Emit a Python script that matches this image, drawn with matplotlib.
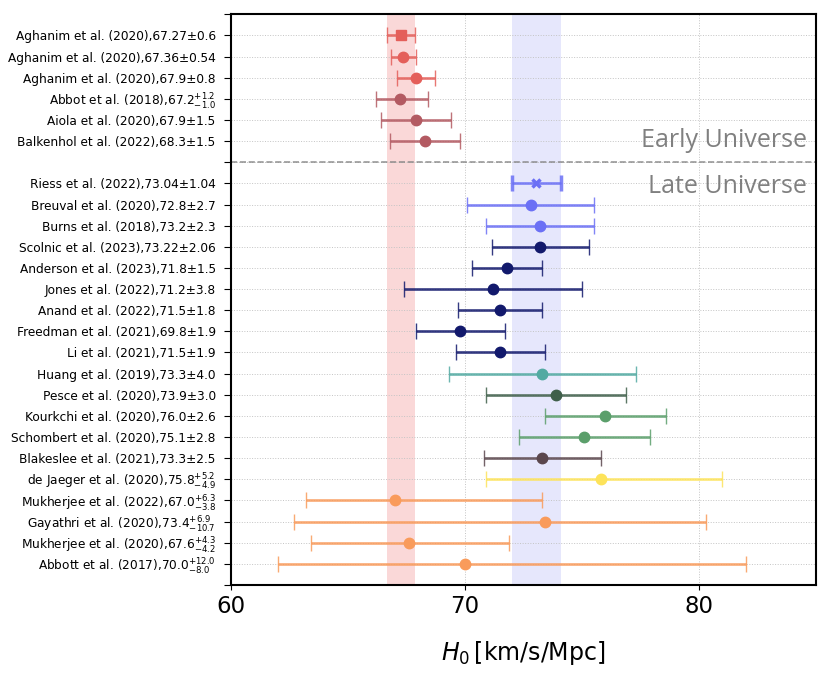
import numpy as np
import matplotlib
matplotlib.use('Agg')
import matplotlib.pyplot as plt
from matplotlib.colors import to_rgba

# measurements, listed top to bottom
labels = [
    "Aghanim et al. (2020),67.27±0.6",
    "Aghanim et al. (2020),67.36±0.54",
    "Aghanim et al. (2020),67.9±0.8",
    r"Abbot et al. (2018),67.2$^{+1.2}_{-1.0}$",
    "Aiola et al. (2020),67.9±1.5",
    "Balkenhol et al. (2022),68.3±1.5",
    "Riess et al. (2022),73.04±1.04",
    "Breuval et al. (2020),72.8±2.7",
    "Burns et al. (2018),73.2±2.3",
    "Scolnic et al. (2023),73.22±2.06",
    "Anderson et al. (2023),71.8±1.5",
    "Jones et al. (2022),71.2±3.8",
    "Anand et al. (2022),71.5±1.8",
    "Freedman et al. (2021),69.8±1.9",
    "Li et al. (2021),71.5±1.9",
    "Huang et al. (2019),73.3±4.0",
    "Pesce et al. (2020),73.9±3.0",
    "Kourkchi et al. (2020),76.0±2.6",
    "Schombert et al. (2020),75.1±2.8",
    "Blakeslee et al. (2021),73.3±2.5",
    r"de Jaeger et al. (2020),75.8$^{+5.2}_{-4.9}$",
    r"Mukherjee et al. (2022),67.0$^{+6.3}_{-3.8}$",
    r"Gayathri et al. (2020),73.4$^{+6.9}_{-10.7}$",
    r"Mukherjee et al. (2020),67.6$^{+4.3}_{-4.2}$",
    r"Abbott et al. (2017),70.0$^{+12.0}_{-8.0}$",
]
h0 = [67.27, 67.36, 67.9, 67.2, 67.9, 68.3,
      73.04, 72.8, 73.2, 73.22, 71.8, 71.2, 71.5, 69.8, 71.5,
      73.3, 73.9, 76.0, 75.1, 73.3, 75.8, 67.0, 73.4, 67.6, 70.0]
err_lo = [0.6, 0.54, 0.8, 1.0, 1.5, 1.5,
          1.04, 2.7, 2.3, 2.06, 1.5, 3.8, 1.8, 1.9, 1.9,
          4.0, 3.0, 2.6, 2.8, 2.5, 4.9, 3.8, 10.7, 4.2, 8.0]
err_hi = [0.6, 0.54, 0.8, 1.2, 1.5, 1.5,
          1.04, 2.7, 2.3, 2.06, 1.5, 3.8, 1.8, 1.9, 1.9,
          4.0, 3.0, 2.6, 2.8, 2.5, 5.2, 6.3, 6.9, 4.3, 12.0]
colors = ['#e45f5a', '#e45f5a', '#e45f5a', '#b35a62', '#b35a62', '#b35a62',
          '#6b70f5', '#6b70f5', '#6b70f5',
          '#12196c', '#12196c', '#12196c', '#12196c', '#12196c', '#12196c',
          '#52aaa2', '#3f5f4a', '#5b9f6b', '#5b9f6b', '#5b474d', '#fde35a',
          '#f99b5b', '#f99b5b', '#f99b5b', '#f99b5b']
markers = ['s'] + ['o'] * 5 + ['x'] + ['o'] * 18

n_early = 6
n_late = len(labels) - n_early
# y positions: late block at 1..19, divider at 20, early block at 21..26
ypos = list(range(n_late + n_early + 1, n_late + 1, -1)) + list(range(n_late, 0, -1))
y_div = n_late + 1
y_top = n_late + n_early + 2

fig = plt.figure(figsize=(8.31, 6.81), dpi=100)
ax = fig.add_axes([0.278, 0.141, 0.704, 0.838])

ax.axvspan(67.27 - 0.6, 67.27 + 0.6, color='lightcoral', alpha=0.3, lw=0, zorder=0)
ax.axvspan(73.04 - 1.04, 73.04 + 1.04, color='#5a64f0', alpha=0.15, lw=0, zorder=0)

for i in range(len(labels)):
    c = colors[i]
    ax.errorbar(h0[i], ypos[i], xerr=[[err_lo[i]], [err_hi[i]]],
                fmt=markers[i], color=c, ecolor=to_rgba(c, 0.85),
                markersize=7.5 if markers[i] != 'x' else 6, mew=2.5 if markers[i] == 'x' else 1,
                elinewidth=1.9, capsize=6, capthick=1.9, zorder=3)

ax.axhline(y_div, color='gray', ls='--', lw=1.2, alpha=0.8, zorder=2)

ax.text(84.6, y_div + 0.7, 'Early Universe', ha='right', va='baseline',
        fontsize=18, color='gray', family='Open Sans')
ax.text(84.6, y_div - 1.47, 'Late Universe', ha='right', va='baseline',
        fontsize=18, color='gray', family='Open Sans')

ticks = list(range(0, y_top + 1))
tick_labels = [''] * len(ticks)
for i, lab in enumerate(labels):
    tick_labels[ypos[i]] = lab
ax.set_yticks(ticks)
ax.set_yticklabels(tick_labels, fontsize=8.7)
ax.tick_params(axis='y', length=5, pad=6)
ax.set_ylim(0, y_top)

ax.set_xlim(60, 85)
ax.set_xticks([60, 70, 80])
ax.tick_params(axis='x', labelsize=16.5)
ax.set_xlabel(r'$H_0\,$[km/s/Mpc]', fontsize=17, labelpad=15)

ax.grid(True, ls=':', lw=0.7, color='#c4c4c4', zorder=1)
ax.set_axisbelow(True)
for sp in ax.spines.values():
    sp.set_linewidth(1.5)

fig.savefig('out.png', dpi=100)
